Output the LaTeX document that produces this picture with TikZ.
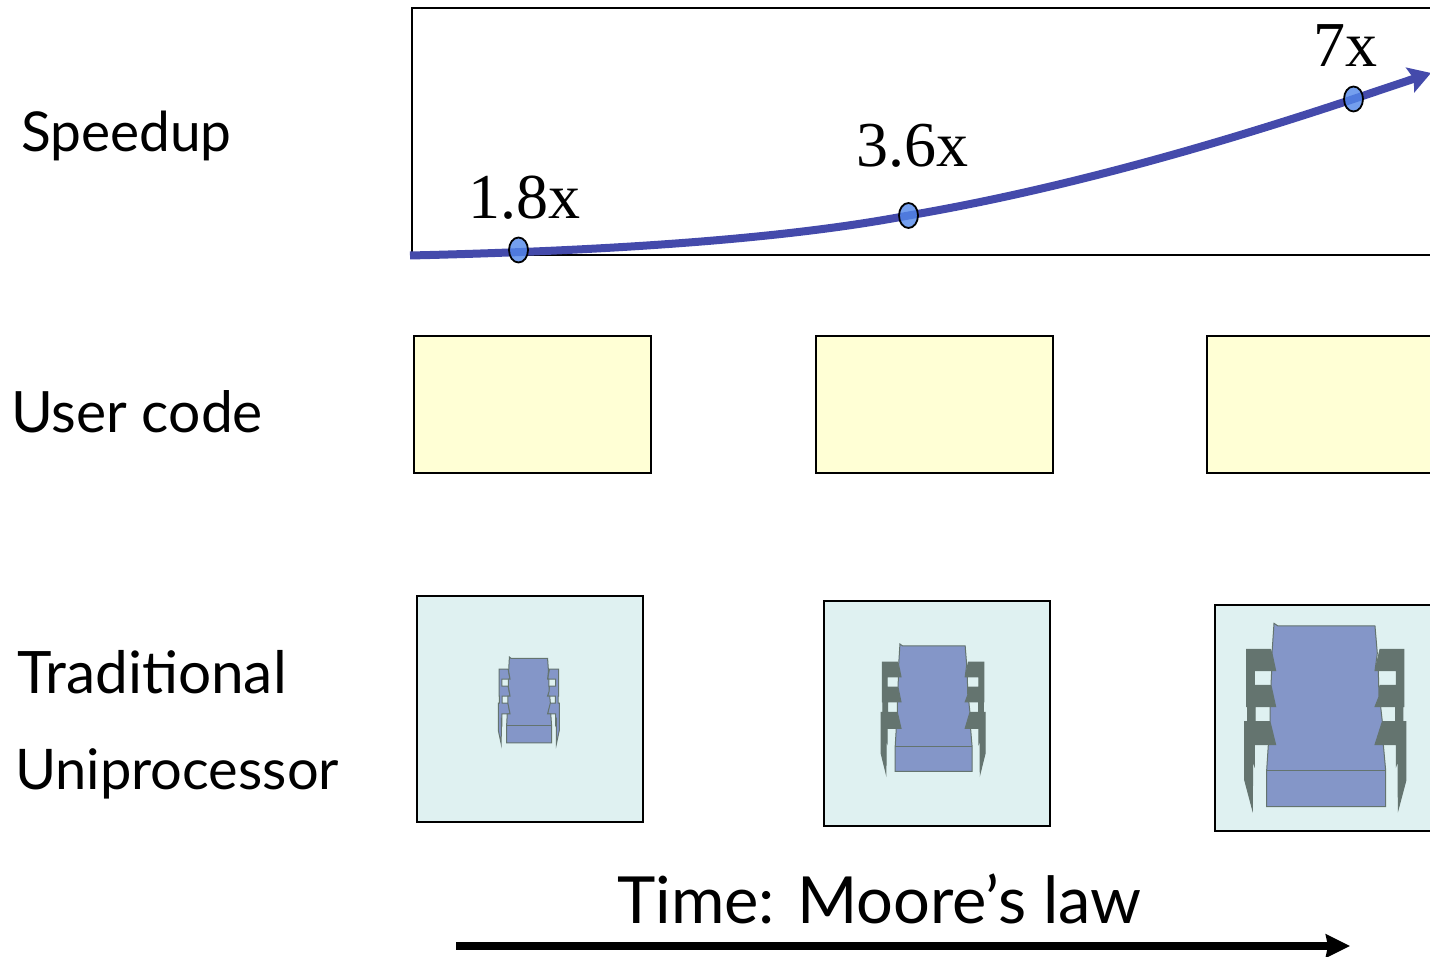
\documentclass[tikz,border=0pt]{standalone}
\usepackage{fontspec}
\setmainfont{Liberation Serif}
\newfontfamily\handfont{Lato}
\usetikzlibrary{arrows.meta,shapes.geometric}
\definecolor{codeyellow}{HTML}{FFFFD5}
\definecolor{chipbg}{HTML}{DFF1F1}
\definecolor{chipblue}{HTML}{8496C8}
\definecolor{chipgray}{HTML}{64746F}
\definecolor{curveblue}{HTML}{444AAB}
\definecolor{dotblue}{HTML}{5287EA}
\tikzset{
  codebox/.style={draw=black,line width=1.8pt,fill=codeyellow,outer sep=0pt,inner sep=0pt,minimum width=237pt,minimum height=137pt,anchor=north west},
  chipbox/.style={draw=black,line width=1.8pt,fill=chipbg,outer sep=0pt,inner sep=0pt,minimum width=226pt,minimum height=226pt,anchor=north west},
  handlabel/.style={anchor=base west,inner sep=0pt,font=\handfont\fontsize{#1}{#1}\selectfont},
  speedlabel/.style={anchor=base west,inner sep=0pt,font=\fontsize{64}{64}\selectfont},
  dotmark/.style={ellipse,draw=black,line width=1.8pt,fill=dotblue,fill opacity=.8,minimum width=19pt,minimum height=25pt,inner sep=0pt},
  chipbody/.style={draw=chipgray,fill=chipblue,line join=miter},
}
\newcommand{\chipdraw}[6]{%
\begin{scope}[shift={(#1,#2)},x=#3pt,y=-#4pt,line width=#5pt]
\draw[draw=chipgray,fill=#6] (110,148)--(182,148)--(197,212)--(133,212)--(133,256)--(182,256)--(197,320)--(135,320)--(135,365)--(182,365)--(197,434)--(133,434)--(133,495)--(128,480)--(127,627)--(104,540)--(104,365)--(113,365)--(113,320)--(110,320)--cycle;
\draw[draw=chipgray,fill=#6] (582,148)--(510,148)--(495,212)--(559,212)--(559,256)--(510,256)--(495,320)--(557,320)--(557,365)--(510,365)--(495,434)--(559,434)--(559,495)--(564,480)--(565,627)--(588,540)--(588,365)--(579,365)--(579,320)--(582,320)--cycle;
\draw[chipbody] (192,70)--(204,78)--(495,78)--(502,160)--(495,212)--(505,212)--(507,290)--(495,320)--(512,320)--(517,365)--(495,434)--(520,434)--(527,511)--(527,620)--(170,620)--(170,511)--(175,434)--(197,434)--(180,365)--(180,320)--(197,320)--(183,256)--(185,212)--(197,212)--(186,160)--cycle;
\draw[draw=chipgray] (170,511)--(527,511);
\end{scope}}
\begin{document}
\begin{tikzpicture}[x=1pt,y=-1pt]
\useasboundingbox (0,0) rectangle (1430,957);
\clip (0,0) rectangle (1430,957);
\fill[white] (0,0) rectangle (1430,957);
% speedup panel
\draw[line width=1.8pt] (1440,8) -- (412,8) -- (412,255) -- (1440,255);
\coordinate (c0) at (410,255.5);
\coordinate (c1) at (518.5,250);
\coordinate (c2) at (908.5,215.5);
\coordinate (c3) at (1353.5,99);
\coordinate (c4) at (1431,73);
\draw[curveblue,line width=8pt,-{Stealth[length=22pt,width=26pt,inset=4pt]}]
  (c0) .. controls (600,251) and (780,240) .. (c2)
       .. controls (1070,188) and (1230,140) .. (c3)
       -- (c4);
\node[dotmark] (d1) at (c1) {};
\node[dotmark] (d2) at (c2) {};
\node[dotmark] (d3) at (c3) {};
\node[speedlabel] (s1) at (468,219) {1.8x};
\node[speedlabel] (s2) at (856,167) {3.6x};
\node[speedlabel] (s3) at (1313,67) {7x};
% row labels
\node[handlabel=55] (l1) at (21,152) {Speedup};
\node[handlabel=57] (l2) at (11,432) {User code};
\node[handlabel=58.5] (l3) at (17,693) {Traditional};
\node[handlabel=56] (l4) at (15,789) {Uniprocessor};
% code boxes
\node[codebox] (u1) at (414,336) {};
\node[codebox] (u2) at (816,336) {};
\node[codebox] (u3) at (1207,336) {};
% chip boxes
\node[chipbox] (b1) at (417,596) {};
\node[chipbox,minimum height=225pt] (b2) at (824,601) {};
\node[chipbox] (b3) at (1215,605) {};
\chipdraw{485.2}{646.1}{.126}{.156}{1}{chipblue}
\chipdraw{858.6}{627.8}{.2153}{.2316}{1}{chipgray}
\chipdraw{1210}{600}{.3333}{.3333}{1}{chipgray}
% time axis
\node[handlabel=65] (t) at (617,923) {Time: Moore’s law};
\coordinate (a0) at (456,946);
\coordinate (a1) at (1350,946);
\draw[black,line width=7.5pt,-{Stealth[length=24pt,width=23pt,inset=2pt]}] (a0) -- (a1);
\end{tikzpicture}
\end{document}
